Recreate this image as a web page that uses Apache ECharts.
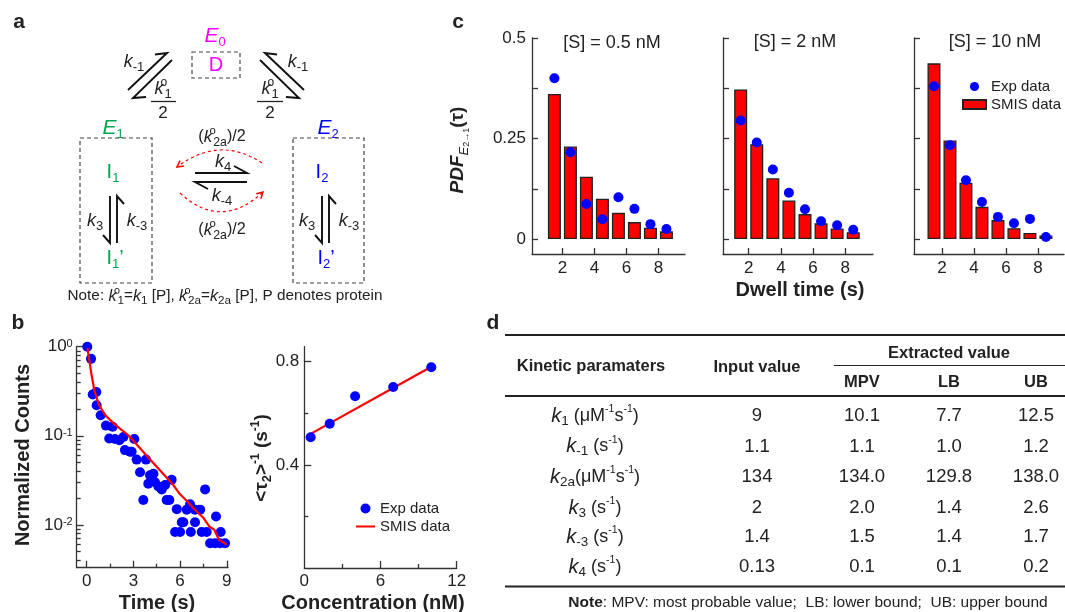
<!DOCTYPE html>
<html>
<head>
<meta charset="utf-8">
<script src="https://cdn.jsdelivr.net/npm/echarts@6/dist/echarts.min.js"></script>
<style>
  html, body { margin: 0; padding: 0; background: #fff; }
  #fig { width: 1065px; height: 612px; }
</style>
</head>
<body>
<div id="fig"></div>
<script>
// ---------- data ----------
// b (left): normalized counts vs time, log scale
const decayExp = [
  [0.04, 1.0], [0.28, 0.73], [0.39, 0.29], [0.62, 0.31], [0.64, 0.22], [0.90, 0.17],
  [1.24, 0.13], [1.45, 0.093], [1.67, 0.126], [1.82, 0.092], [2.10, 0.089], [2.36, 0.097],
  [2.46, 0.069], [2.78, 0.066], [2.89, 0.066], [3.06, 0.092], [3.21, 0.054], [3.43, 0.039],
  [3.64, 0.019], [3.81, 0.054], [3.96, 0.029], [4.07, 0.036], [4.29, 0.0375], [4.39, 0.030],
  [4.61, 0.027], [4.82, 0.025], [5.04, 0.028], [5.14, 0.019], [5.31, 0.019], [5.46, 0.032],
  [5.68, 0.0083], [5.79, 0.015], [6.00, 0.0083], [6.11, 0.0107], [6.21, 0.0107], [6.43, 0.0148],
  [6.64, 0.017], [6.69, 0.0083], [6.96, 0.0148], [6.96, 0.0107], [7.29, 0.0148], [7.39, 0.0083],
  [7.61, 0.025], [7.71, 0.0083], [7.93, 0.0062], [8.25, 0.0062], [8.31, 0.0124], [8.57, 0.0062],
  [8.61, 0.0083], [8.89, 0.0062]
];
const decaySmis = [
  [0.05, 0.97], [0.3, 0.5], [0.5, 0.32], [0.8, 0.22], [1.2, 0.17], [1.6, 0.145], [2.1, 0.122],
  [2.6, 0.104], [3.0, 0.088], [3.5, 0.07], [4.0, 0.056], [4.5, 0.045], [5.0, 0.036], [5.5, 0.029],
  [6.0, 0.022], [6.5, 0.018], [7.0, 0.0145], [7.5, 0.012], [7.9, 0.0095], [8.2, 0.0088],
  [8.5, 0.0068], [9.0, 0.006]
];
// b (right): <tau2>^-1 vs concentration
const concentration = [0.5, 2, 4, 7, 10];
const invTau2Exp = [0.507, 0.559, 0.666, 0.702, 0.778];
const fitConc = [0.5, 10];
const fitInvTau2 = [0.52, 0.78];
// c: dwell time PDFs
const dwellBins = [1.5, 2.5, 3.5, 4.5, 5.5, 6.5, 7.5, 8.5];
const smis05 = [0.361, 0.230, 0.155, 0.100, 0.065, 0.042, 0.028, 0.019];
const exp05 = [0.400, 0.216, 0.087, 0.049, 0.104, 0.075, 0.037, 0.025];
const smis2 = [0.372, 0.236, 0.151, 0.096, 0.062, 0.039, 0.026, 0.017];
const exp2 = [0.295, 0.240, 0.173, 0.115, 0.074, 0.044, 0.034, 0.023];
const smis10 = [0.437, 0.245, 0.140, 0.080, 0.047, 0.027, 0.015, 0.009];
const exp10 = [0.380, 0.233, 0.146, 0.092, 0.055, 0.039, 0.050, 0.005];
const concTitles = ['[S] = 0.5 nM', '[S] = 2 nM', '[S] = 10 nM'];
// d: table
const paramLabels = [
  '{k|k}{b|1}{t| (μM}{p|-1}{t|s}{p|-1}{t|)}',
  '{k|k}{b|-1}{t| (s}{p|-1}{t|)}',
  '{k|k}{b|2a}{t|(μM}{p|-1}{t|s}{p|-1}{t|)}',
  '{k|k}{b|3}{t| (s}{p|-1}{t|)}',
  '{k|k}{b|-3}{t| (s}{p|-1}{t|)}',
  '{k|k}{b|4}{t| (s}{p|-1}{t|)}'
];
const inputValues = ['9', '1.1', '134', '2', '1.4', '0.13'];
const mpvValues = ['10.1', '1.1', '134.0', '2.0', '1.5', '0.1'];
const lbValues = ['7.7', '1.0', '129.8', '1.4', '1.4', '0.1'];
const ubValues = ['12.5', '1.2', '138.0', '2.6', '1.7', '0.2'];

// ---------- style ----------
const FONT = 'Liberation Sans';
const INK = '#222';
const AXIS = '#333';
const BLUE = '#0000ff';
const RED = '#ff0000';
const MAGENTA = '#ff00ff';
const GREEN = '#00a550';

const zip = (xs, ys) => xs.map((x, i) => [x, ys[i]]);

function axis(dim, grid, min, max, o) {
  return {
    type: o.log ? 'log' : 'value',
    gridIndex: grid, min: min, max: max,
    position: dim === 'x' ? 'bottom' : 'left',
    axisLine: { show: !o.minor, onZero: false, lineStyle: { color: AXIS, width: 1.3 } },
    axisTick: { show: true, inside: true, length: o.len || 6, customValues: o.ticks,
      lineStyle: { color: AXIS, width: 1.3 } },
    axisLabel: o.labels ? {
      customValues: o.labels, margin: o.margin || 5, color: INK, fontFamily: FONT, fontSize: 17,
      formatter: o.fmt, rich: o.rich
    } : { show: false },
    splitLine: { show: false }
  };
}

// rich text token sets for free text
function tokens(color, s) {
  s = s || 1;
  return {
    k: { fontFamily: FONT, fontSize: 18 * s, fontStyle: 'italic', fill: color, lineHeight: 24 * s },
    e: { fontFamily: FONT, fontSize: 21 * s, fontStyle: 'italic', fill: color, lineHeight: 26 * s },
    t: { fontFamily: FONT, fontSize: 17 * s, fill: color, lineHeight: 24 * s },
    T: { fontFamily: FONT, fontSize: 20 * s, fill: color, lineHeight: 26 * s },
    b: { fontFamily: FONT, fontSize: 13 * s, fill: color, verticalAlign: 'bottom', lineHeight: 15 * s },
    p: { fontFamily: FONT, fontSize: 11 * s, fill: color, verticalAlign: 'top', lineHeight: 13 * s },
    o: { fontFamily: FONT, fontSize: 12 * s, fill: color, verticalAlign: 'top', lineHeight: 13 * s, width: 1 }
  };
}

function text(x, y, str, o) {
  o = o || {};
  const align = o.align || 'center';
  return {
    type: 'text', x: x, y: y, rotation: o.rot || 0, silent: true,
    style: {
      text: str, fill: o.color || INK, fontFamily: FONT, fontSize: o.size || 17,
      fontWeight: o.bold ? 'bold' : 'normal', fontStyle: o.italic ? 'italic' : 'normal',
      align: align, textAlign: align, verticalAlign: 'middle', textVerticalAlign: 'middle',
      rich: o.rich
    }
  };
}
function seg(x1, y1, x2, y2, w, color, dash) {
  return { type: 'line', silent: true, shape: { x1, y1, x2, y2 },
    style: { stroke: color || INK, lineWidth: w || 1, lineDash: dash } };
}
function harpoon(x1, y1, x2, y2, bx, by) {
  return { type: 'polyline', silent: true, shape: { points: [[x1, y1], [x2, y2], [bx, by]] },
    style: { stroke: '#111', lineWidth: 1.9, fill: null } };
}
function dashBox(x, y, w, h) {
  return { type: 'rect', silent: true, shape: { x, y, width: w, height: h },
    style: { fill: null, stroke: '#444', lineWidth: 1.2, lineDash: [4, 3] } };
}
function arcArrow(x1, y1, cx, cy, x2, y2) {
  const ang = Math.atan2(y2 - cy, x2 - cx), h = 7;
  const a1 = ang + Math.PI - 0.5, a2 = ang + Math.PI + 0.5;
  return [
    { type: 'bezierCurve', silent: true, shape: { x1, y1, x2, y2, cpx1: cx, cpy1: cy },
      style: { stroke: RED, lineWidth: 1.2, lineDash: [3, 3], fill: null } },
    { type: 'polyline', silent: true,
      shape: { points: [[x2 + h * Math.cos(a1), y2 + h * Math.sin(a1)], [x2, y2], [x2 + h * Math.cos(a2), y2 + h * Math.sin(a2)]] },
      style: { stroke: RED, lineWidth: 1.5, fill: null } }
  ];
}

// ---------- panel a: reaction scheme ----------
const dark = tokens(INK);
const scheme = [
  text(19, 22, 'a', { bold: true, size: 21 }),
  text(215, 36, '{e|E}{b|0}', { rich: tokens(MAGENTA) }),
  dashBox(192, 52, 48, 26),
  text(216, 65, '{T|D}', { rich: tokens(MAGENTA) }),
  harpoon(128, 90, 167, 53, 155, 54.5),
  harpoon(172, 60, 133, 98, 146, 97),
  harpoon(304, 90, 265, 53, 277, 54.5),
  harpoon(260, 60, 299, 98, 286, 97),
  text(134, 62, '{k|k}{b|-1}', { rich: dark }),
  text(298, 62, '{k|k}{b|-1}', { rich: dark }),
  text(163, 89, '{k|k}{o|o}{b|1}', { rich: dark }),
  seg(151, 101.5, 176, 101.5, 1.3),
  text(163, 113, '2', { size: 17 }),
  text(270, 89, '{k|k}{o|o}{b|1}', { rich: dark }),
  seg(257, 101.5, 283, 101.5, 1.3),
  text(270, 113, '2', { size: 17 }),
  text(113, 128, '{e|E}{b|1}', { rich: tokens(GREEN) }),
  text(328, 128, '{e|E}{b|2}', { rich: tokens(BLUE) }),
  dashBox(80, 138, 72, 145),
  dashBox(293, 138, 71, 145),
  text(113, 172, '{T|I}{b|1}', { rich: tokens(GREEN) }),
  text(322, 172, '{T|I}{b|2}', { rich: tokens(BLUE) }),
  harpoon(110, 196, 110, 243, 103, 235),
  harpoon(117, 243, 117, 196, 124, 204),
  harpoon(322, 196, 322, 243, 315, 235),
  harpoon(329, 243, 329, 196, 336, 204),
  text(95, 221, '{k|k}{b|3}', { rich: dark }),
  text(137, 221, '{k|k}{b|-3}', { rich: dark }),
  text(307, 221, '{k|k}{b|3}', { rich: dark }),
  text(349, 221, '{k|k}{b|-3}', { rich: dark }),
  text(115, 258, '{T|I}{b|1}{T|’}', { rich: tokens(GREEN) }),
  text(326, 258, '{T|I}{b|2}{T|’}', { rich: tokens(BLUE) }),
  text(222, 137, '{t|(}{k|k}{o|o}{b|2a}{t|)/2}', { rich: tokens(INK, 0.95) }),
  harpoon(195, 173, 247, 173, 234, 166),
  harpoon(247, 182, 195, 182, 208, 189),
  text(223, 162, '{k|k}{b|4}', { rich: dark }),
  text(222, 196, '{k|k}{b|-4}', { rich: dark }),
  ...arcArrow(262, 163, 220, 135, 177, 167),
  ...arcArrow(180, 193, 221, 231, 263, 192),
  text(222, 230, '{t|(}{k|k}{o|o}{b|2a}{t|)/2}', { rich: tokens(INK, 0.95) }),
  text(225, 296, '{t|Note: }{k|k}{o|o}{b|1}{t|=}{k|k}{b|1}{t| [P], }{k|k}{o|o}{b|2a}{t|=}{k|k}{b|2a}{t| [P], P denotes protein}',
    { rich: tokens(INK, 0.9) })
];

// ---------- panel b / c labels ----------
const labels = [
  text(18, 323, 'b', { bold: true, size: 21 }),
  text(23, 455, 'Normalized Counts', { bold: true, size: 20, rot: Math.PI / 2 }),
  text(157, 603, 'Time (s)', { bold: true, size: 20 }),
  text(262, 458, '{a|<τ}{b|2}{a|>}{p|-1}{a| (s}{p|-1}{a|)}', { rot: Math.PI / 2, rich: {
    a: { fontFamily: FONT, fontSize: 19, fontWeight: 'bold', fill: INK, lineHeight: 24 },
    b: { fontFamily: FONT, fontSize: 13, fontWeight: 'bold', fill: INK, verticalAlign: 'bottom', lineHeight: 15 },
    p: { fontFamily: FONT, fontSize: 12, fontWeight: 'bold', fill: INK, verticalAlign: 'top', lineHeight: 13 }
  } }),
  text(373, 603, 'Concentration (nM)', { bold: true, size: 20 }),
  text(458, 22, 'c', { bold: true, size: 21 }),
  text(458, 150, '{a|PDF}{b|E}{c|2→1}{d|(τ)}', { rot: Math.PI / 2, rich: {
    a: { fontFamily: FONT, fontSize: 19, fontWeight: 'bold', fontStyle: 'italic', fill: INK, lineHeight: 26 },
    b: { fontFamily: FONT, fontSize: 13, fontStyle: 'italic', fill: INK, verticalAlign: 'bottom', lineHeight: 17 },
    c: { fontFamily: FONT, fontSize: 9, fill: INK, verticalAlign: 'bottom', lineHeight: 10 },
    d: { fontFamily: FONT, fontSize: 19, fontWeight: 'bold', fill: INK, lineHeight: 26 }
  } }),
  text(612, 43, concTitles[0], { size: 18 }),
  text(795, 42, concTitles[1], { size: 18 }),
  text(995, 42, concTitles[2], { size: 18 }),
  text(800, 290, 'Dwell time (s)', { bold: true, size: 20 })
];

// ---------- panel d: table ----------
const colX = [595, 757, 862, 949, 1036];
const rowY = [416, 446.5, 477, 508, 537, 567];
const paramRich = {
  k: { fontFamily: FONT, fontSize: 20, fontStyle: 'italic', fill: INK, lineHeight: 24 },
  t: { fontFamily: FONT, fontSize: 18, fill: INK, lineHeight: 24 },
  b: { fontFamily: FONT, fontSize: 13.5, fill: INK, verticalAlign: 'bottom', lineHeight: 15 },
  p: { fontFamily: FONT, fontSize: 10.5, fill: INK, verticalAlign: 'top', lineHeight: 12 }
};
const table = [
  text(493, 323, 'd', { bold: true, size: 21 }),
  seg(505, 335, 1065, 335, 2.2),
  seg(834, 365.5, 1065, 365.5, 1),
  seg(505, 396, 1065, 396, 2.2),
  seg(505, 586.5, 1065, 586.5, 2.2),
  text(591, 366, 'Kinetic paramaters', { bold: true, size: 16.5 }),
  text(757, 367, 'Input value', { bold: true, size: 16.5 }),
  text(949, 353, 'Extracted value', { bold: true, size: 16.5 }),
  text(colX[2], 382, 'MPV', { bold: true, size: 16.5 }),
  text(colX[3], 382, 'LB', { bold: true, size: 16.5 }),
  text(colX[4], 382, 'UB', { bold: true, size: 16.5 }),
  text(808, 603, '{n|Note}{m|: MPV: most probable value;  LB: lower bound;  UB: upper bound}', { rich: {
    n: { fontFamily: FONT, fontSize: 15.5, fontWeight: 'bold', fill: INK },
    m: { fontFamily: FONT, fontSize: 15.5, fill: INK }
  } })
];
paramLabels.forEach((p, i) => {
  table.push(text(colX[0], rowY[i], p, { rich: paramRich }));
  [inputValues, mpvValues, lbValues, ubValues].forEach((col, j) => {
    table.push(text(colX[j + 1], rowY[i], col[i], { size: 18.5 }));
  });
});

// ---------- axes ----------
const logRich = {
  b: { fontFamily: FONT, fontSize: 17, color: INK },
  s: { fontFamily: FONT, fontSize: 11, color: INK, verticalAlign: 'top' }
};
const logMinor = [];
[0.001, 0.01, 0.1].forEach(d => { for (let m = 2; m <= 9; m++) logMinor.push(+(m * d).toPrecision(2)); });

const cLayout = [
  { left: 532, width: 153, min: 0.1, max: 9.66 },
  { left: 723, width: 150, min: 0.4, max: 9.73 },
  { left: 914, width: 150, min: 0.25, max: 9.63 }
];
const grids = [
  { left: 76.7, top: 346.7, width: 151.3, height: 221 },
  { left: 304.3, top: 346.7, width: 152.4, height: 221.3 }
].concat(cLayout.map(c => ({ left: c.left, top: 38, width: c.width, height: 216 })));

const xAxes = [
  axis('x', 0, -0.64, 9.08, { ticks: [0, 3, 6, 9], labels: [0, 3, 6, 9], len: 7, margin: 5 }),
  axis('x', 0, -0.64, 9.08, { ticks: [1.5, 4.5, 7.5], len: 4, minor: true }),
  axis('x', 1, 0, 12, { ticks: [6, 12], labels: [0, 6, 12], len: 7, margin: 5 }),
  axis('x', 1, 0, 12, { ticks: [3, 9], len: 4, minor: true })
].concat(cLayout.map((c, i) => axis('x', 2 + i, c.min, c.max, { ticks: [2, 4, 6, 8], labels: [2, 4, 6, 8], margin: 6 })));

const yAxes = [
  axis('y', 0, 0.0033, 1, { log: true, ticks: [0.01, 0.1, 1], labels: [0.01, 0.1, 1], len: 7, margin: 4,
    fmt: v => '{b|10}{s|' + Math.round(Math.log10(v)) + '}', rich: logRich }),
  axis('y', 0, 0.0033, 1, { log: true, ticks: logMinor, len: 4, minor: true }),
  axis('y', 1, 0, 0.858, { ticks: [0.4, 0.8], labels: [0.4, 0.8], len: 7, margin: 5 }),
  axis('y', 1, 0, 0.858, { ticks: [0.2, 0.6], len: 4, minor: true })
].concat(cLayout.map((c, i) => axis('y', 2 + i, -0.0373, 0.5, {
  ticks: [0, 0.125, 0.25, 0.375, 0.5], labels: i === 0 ? [0, 0.25, 0.5] : null, margin: 6 })));

// ---------- series ----------
const series = [
  { type: 'scatter', name: 'Exp counts', xAxisIndex: 0, yAxisIndex: 0, data: decayExp,
    symbolSize: 10, itemStyle: { color: BLUE, opacity: 1 }, z: 2 },
  { type: 'line', name: 'SMIS counts', xAxisIndex: 0, yAxisIndex: 0, data: decaySmis,
    symbol: 'none', lineStyle: { color: RED, width: 2.2 }, z: 3 },
  { type: 'scatter', name: 'Exp data', xAxisIndex: 2, yAxisIndex: 2, data: zip(concentration, invTau2Exp),
    symbolSize: 10, itemStyle: { color: BLUE, opacity: 1 }, z: 3 },
  { type: 'line', name: 'SMIS data', xAxisIndex: 2, yAxisIndex: 2, data: zip(fitConc, fitInvTau2),
    symbol: 'none', lineStyle: { color: RED, width: 2.2 }, itemStyle: { color: RED }, z: 2 }
];
[[smis05, exp05], [smis2, exp2], [smis10, exp10]].forEach(([smis, exp], i) => {
  series.push({ type: 'bar', name: 'SMIS PDF', xAxisIndex: 4 + i, yAxisIndex: 4 + i,
    data: zip(dwellBins, smis), barWidth: 13,
    itemStyle: { color: RED, borderColor: '#222', borderWidth: 1.3 }, z: 2 });
  series.push({ type: 'scatter', name: 'Exp PDF', xAxisIndex: 4 + i, yAxisIndex: 4 + i,
    data: zip(dwellBins, exp), symbolSize: 10, itemStyle: { color: BLUE, opacity: 1 }, z: 3 });
});

const legendText = { 'Exp PDF': 'Exp data', 'SMIS PDF': 'SMIS data' };
const legendBase = {
  orient: 'vertical', padding: 0, itemGap: 3, selectedMode: false,
  textStyle: { color: INK, fontFamily: FONT, fontSize: 15 }
};

const chart = echarts.init(document.getElementById('fig'));
chart.setOption({
  animation: false,
  backgroundColor: '#fff',
  textStyle: { fontFamily: FONT },
  grid: grids.map(g => Object.assign({ containLabel: false, outerBoundsMode: 'none' }, g)),
  xAxis: xAxes,
  yAxis: yAxes,
  legend: [
    Object.assign({}, legendBase, { data: ['Exp data', { name: 'SMIS data', itemStyle: { opacity: 0 } }],
      left: 355, top: 501, itemWidth: 19, itemHeight: 10 }),
    Object.assign({}, legendBase, { data: [{ name: 'Exp PDF', icon: 'circle' }, { name: 'SMIS PDF', icon: 'rect' }],
      left: 962, top: 79, itemWidth: 23, itemHeight: 9, formatter: n => legendText[n] })
  ],
  series: series,
  graphic: { elements: scheme.concat(labels, table) }
});
</script>
</body>
</html>
